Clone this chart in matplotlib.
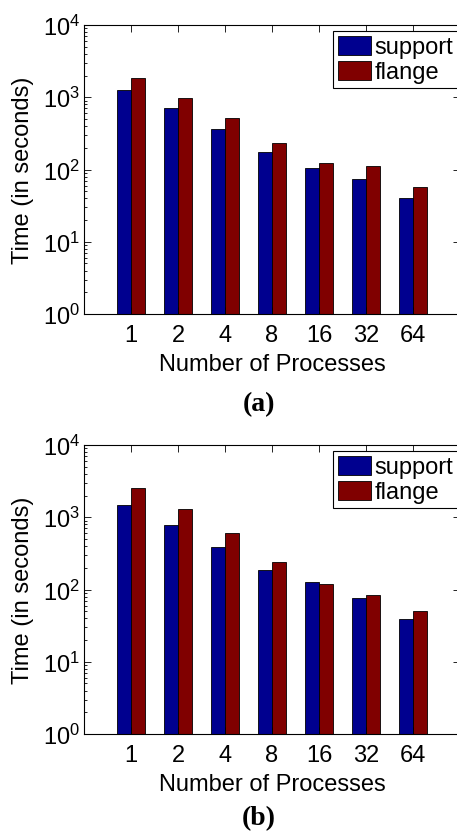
import numpy as np
import matplotlib
matplotlib.use("Agg")
import matplotlib.pyplot as plt
from matplotlib.ticker import LogLocator, NullLocator

# données
processes = ["1", "2", "4", "8", "16", "32", "64"]
support_a = [1260, 703, 360, 173, 104, 75, 40]
flange_a = [1850, 967, 516, 230, 122, 111, 58]
support_b = [1480, 783, 385, 187, 126, 76, 39]
flange_b = [2550, 1300, 600, 244, 120, 85, 50]
captions = ["(a)", "(b)"]

blue = "#00008f"
red = "#800000"

plt.rcParams["font.family"] = ["Liberation Sans", "DejaVu Sans"]
plt.rcParams["mathtext.fontset"] = "custom"
plt.rcParams["mathtext.rm"] = "Liberation Sans"

W, H = 457, 837
fig = plt.figure(figsize=(W / 100, H / 100), dpi=100)
fs = 17


def px_axes(left, top, right, bottom):
    return fig.add_axes([left / W, 1 - bottom / H, (right - left) / W, (bottom - top) / H])


def draw_panel(ax, support, flange, caption, cap_y):
    x = np.arange(1, len(processes) + 1)
    w = 0.29
    ax.bar(x - w / 2, support, w, color=blue, edgecolor="black", linewidth=0.6, label="support")
    ax.bar(x + w / 2, flange, w, color=red, edgecolor="black", linewidth=0.6, label="flange")
    ax.set_yscale("log")
    ax.set_ylim(1, 1e4)
    ax.set_xlim(0, 8)
    ax.set_xticks(x)
    ax.set_xticklabels(processes)
    ax.xaxis.set_minor_locator(NullLocator())
    ax.yaxis.set_major_locator(LogLocator(base=10, numticks=10))
    ax.yaxis.set_minor_locator(LogLocator(base=10, subs=np.arange(2, 10), numticks=20))
    ax.tick_params(axis="both", which="both", direction="in", top=True, right=True,
                   labelsize=fs, width=0.6)
    ax.tick_params(axis="both", which="major", length=5)
    ax.tick_params(axis="y", which="minor", length=2.5)
    ax.tick_params(axis="x", pad=7)
    ax.tick_params(axis="y", pad=3)
    for s in ax.spines.values():
        s.set_linewidth(0.8)
    ax.set_xlabel("Number of Processes", fontsize=fs, labelpad=5)
    ax.set_ylabel("Time (in seconds)", fontsize=fs, labelpad=6)
    leg = ax.legend(loc="upper right", bbox_to_anchor=(0.995, 1 - 6 / 289),
                    bbox_transform=ax.transAxes, fontsize=fs, frameon=True, fancybox=False,
                    edgecolor="black", framealpha=1, borderaxespad=0, borderpad=0.2,
                    handlelength=1.4, handleheight=0.85, handletextpad=0.15, labelspacing=0.1)
    leg.get_frame().set_linewidth(0.8)
    ax.text(0.465, cap_y, caption, transform=ax.transAxes, ha="center", va="center",
            fontsize=20, fontweight="bold", family="Liberation Serif")


ax1 = px_axes(84, 26, 460, 315)
draw_panel(ax1, support_a, flange_a, captions[0], -0.31)
ax2 = px_axes(84, 446, 460, 735)
draw_panel(ax2, support_b, flange_b, captions[1], -0.29)

fig.savefig("out.png", dpi=100)
